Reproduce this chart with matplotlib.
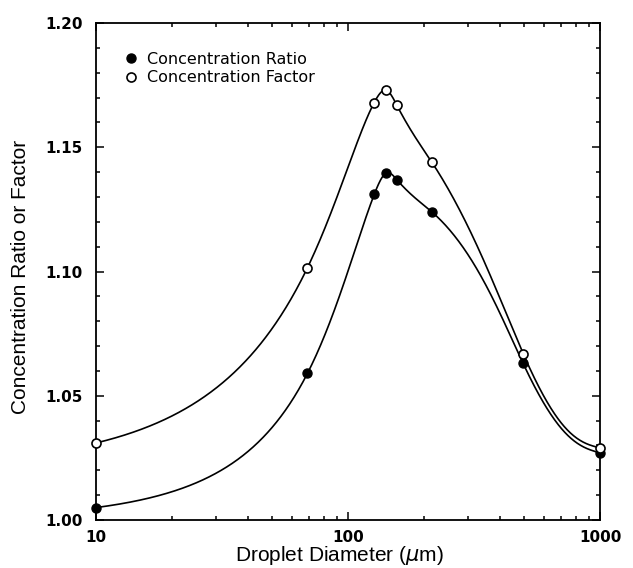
import matplotlib
matplotlib.use("Agg")
import matplotlib.pyplot as plt
from matplotlib.ticker import MultipleLocator, LogLocator, NullFormatter, FixedLocator, FixedFormatter
import numpy as np

# data
diameter = [10, 69, 127, 141, 156, 215, 495, 1000]
conc_ratio = [1.005, 1.059, 1.131, 1.1395, 1.137, 1.124, 1.063, 1.027]
conc_factor = [1.031, 1.1015, 1.168, 1.173, 1.167, 1.144, 1.067, 1.029]

x_ticks = [10, 100, 1000]
x_tick_labels = ["10", "100", "1000"]
y_ticks = [1.00, 1.05, 1.10, 1.15, 1.20]
y_tick_labels = ["1.00", "1.05", "1.10", "1.15", "1.20"]


def spline(x, y, xnew):
    # cubic spline in linear x: parabolic run-out on the left, natural on the right
    x = np.asarray(x, float)
    y = np.asarray(y, float)
    n = len(x)
    h = np.diff(x)
    A = np.zeros((n, n))
    b = np.zeros(n)
    A[0, 0] = 1.0
    A[0, 1] = -1.0
    A[-1, -1] = 1.0
    for i in range(1, n - 1):
        A[i, i - 1] = h[i - 1]
        A[i, i] = 2 * (h[i - 1] + h[i])
        A[i, i + 1] = h[i]
        b[i] = 6 * ((y[i + 1] - y[i]) / h[i] - (y[i] - y[i - 1]) / h[i - 1])
    M = np.linalg.solve(A, b)
    idx = np.clip(np.searchsorted(x, xnew) - 1, 0, n - 2)
    x0, x1 = x[idx], x[idx + 1]
    hh = h[idx]
    return (M[idx] * (x1 - xnew)**3 / (6 * hh) + M[idx + 1] * (xnew - x0)**3 / (6 * hh)
            + (y[idx] / hh - M[idx] * hh / 6) * (x1 - xnew)
            + (y[idx + 1] / hh - M[idx + 1] * hh / 6) * (xnew - x0))


# figure
fig = plt.figure(figsize=(6.33, 5.68), dpi=100)
ax = fig.add_axes([0.1517, 0.0845, 0.7963, 0.875])

# smooth curves
x_fine = np.logspace(1, 3, 800)
ax.plot(x_fine, spline(diameter, conc_factor, x_fine), color="black", lw=1.2, zorder=2)
ax.plot(x_fine, spline(diameter, conc_ratio, x_fine), color="black", lw=1.2, zorder=2)

# points
l1, = ax.plot(diameter, conc_ratio, "o", color="black", markersize=6.5, zorder=3, clip_on=False)
l2, = ax.plot(diameter, conc_factor, "o", markerfacecolor="white", markeredgecolor="black",
              markeredgewidth=1.2, markersize=6.5, zorder=4, clip_on=False)

# axes
ax.set_xscale("log")
ax.set_xlim(10, 1000)
ax.set_ylim(1.00, 1.20)
ax.xaxis.set_major_locator(FixedLocator(x_ticks))
ax.xaxis.set_major_formatter(FixedFormatter(x_tick_labels))
ax.xaxis.set_minor_locator(LogLocator(base=10, subs=np.arange(2, 10)))
ax.xaxis.set_minor_formatter(NullFormatter())
ax.yaxis.set_major_locator(FixedLocator(y_ticks))
ax.yaxis.set_major_formatter(FixedFormatter(y_tick_labels))
ax.yaxis.set_minor_locator(MultipleLocator(0.01))

ax.tick_params(which="both", direction="in", top=True, right=True, width=1.1)
ax.tick_params(which="major", length=6, labelsize=11)
ax.tick_params(axis="y", which="major", pad=9.5)
ax.tick_params(axis="x", which="major", pad=7)
ax.tick_params(which="minor", length=3)
for lab in ax.get_xticklabels() + ax.get_yticklabels():
    lab.set_fontweight("bold")
for s in ax.spines.values():
    s.set_linewidth(1.3)

ax.set_xlabel(r"Droplet Diameter ($\mu$m)", fontsize=15, family="Liberation Sans")
ax.set_ylabel("Concentration Ratio or Factor", fontsize=15, family="Liberation Sans")
ax.xaxis.set_label_coords(0.483, -0.049)
ax.yaxis.set_label_coords(-0.131, 0.489)

# legend
ax.legend([l1, l2], ["Concentration Ratio", "Concentration Factor"], loc="upper left",
          frameon=False, fontsize=11.5, handletextpad=0.5, borderaxespad=0.0,
          handlelength=1.0, labelspacing=0.22, bbox_to_anchor=(0.04, 0.955))

plt.savefig("out.png", dpi=100)
